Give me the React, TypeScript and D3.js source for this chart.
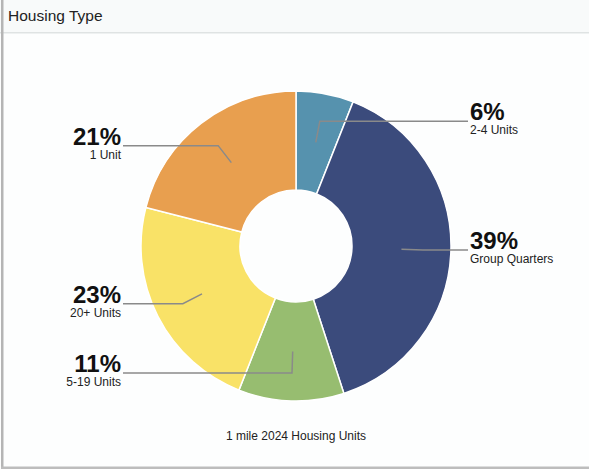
import React from "react";
import * as d3 from "d3";

const categories = ["2-4 Units", "Group Quarters", "5-19 Units", "20+ Units", "1 Unit"];
const values = [6, 39, 11, 23, 21];
const colors = ["#5692ae", "#3b4b7c", "#97bd70", "#f9e267", "#e89f4f"];
const title = "Housing Type";
const footer = "1 mile 2024 Housing Units";

const W = 589;
const H = 469;
const cx = 296;
const cy = 246;
const outerR = 155;
const innerR = 56;

export default function App() {
  const pie = d3.pie<number>().sort(null).value((d) => d);
  const arcs = pie(values);
  const arc = d3.arc<d3.PieArcDatum<number>>().innerRadius(innerR).outerRadius(outerR);
  const midArc = d3.arc<d3.PieArcDatum<number>>().innerRadius(127).outerRadius(127);
  const total = d3.sum(values);

  return (
    <div style={{ position: "absolute", left: 0, top: 0, width: W, height: H }}>
      <svg width={W} height={H} style={{ display: "block", fontFamily: "'Liberation Sans', Arial, Helvetica, sans-serif" }}>
        <rect x={0} y={0} width={W} height={H} fill="#fdfefe" />
        <rect x={0} y={0} width={W} height={32} fill="#f8fafa" />
        <rect x={0} y={32} width={W} height={1.5} fill="#dfe3e3" />
        <rect x={1} y={0} width={2.5} height={H} fill="#b5b5b5" />
        <rect x={1} y={466.5} width={W} height={2.5} fill="#bdbdbd" />
        <text x={8} y={21} fontSize={15.5} fill="#222">{title}</text>
        <g transform={`translate(${cx},${cy})`}>
          {arcs.map((a, i) => (
            <path key={i} d={arc(a) || ""} fill={colors[i]} stroke="#ffffff" strokeWidth={1.5} />
          ))}
          {arcs.map((a, i) => {
            const c = arc.centroid(a);
            const m = midArc.centroid(a);
            const mid = (a.startAngle + a.endAngle) / 2;
            const right = mid < Math.PI;
            const ex = right ? 172 : -173;
            const pts = [c, m, [ex, m[1]]].map((p) => p.join(",")).join(" ");
            const tx = right ? ex + 2 : ex - 2;
            const anchor = right ? "start" : "end";
            return (
              <g key={"l" + i}>
                <polyline points={pts} fill="none" stroke="#8a8a8a" strokeWidth={1.5} />
                <text x={tx} y={m[1] - 1} fontSize={24} fontWeight="bold" textAnchor={anchor} fill="#111">
                  {Math.round((values[i] / total) * 100)}%
                </text>
                <text x={tx} y={m[1] + 13} fontSize={12} textAnchor={anchor} fill="#222">
                  {categories[i]}
                </text>
              </g>
            );
          })}
        </g>
        <text x={cx} y={440} fontSize={12} textAnchor="middle" fill="#222">{footer}</text>
      </svg>
    </div>
  );
}
